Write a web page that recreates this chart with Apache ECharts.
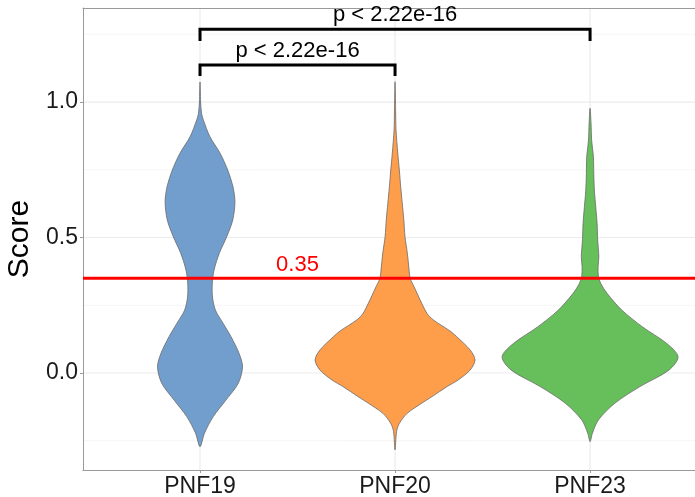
<!DOCTYPE html>
<html>
<head>
<meta charset="utf-8">
<script src="https://cdn.jsdelivr.net/npm/echarts@6/dist/echarts.min.js"></script>
<style>
html, body { margin: 0; padding: 0; background: #ffffff; }
#chart { width: 695px; height: 497px; }
</style>
</head>
<body>
<div id="chart"></div>
<script>
// Groups shown along the x axis (placed at 1, 2, 3)
const groups = ['PNF19', 'PNF20', 'PNF23'];

// Violin outlines: score values (top to bottom) and the violin half-width at each score,
// expressed in group units on the x axis.
const pnf19Score = [1.074, 1.0, 0.958, 0.934, 0.872, 0.811, 0.749, 0.687, 0.632, 0.565, 0.503, 0.442, 0.380, 0.331, 0.280, 0.232, 0.184, 0.134, 0.073, 0.023, -0.038, -0.100, -0.161, -0.222, -0.272];
const pnf19Width = [0, 0.003, 0.008, 0.017, 0.051, 0.103, 0.142, 0.169, 0.179, 0.168, 0.137, 0.099, 0.072, 0.063, 0.064, 0.079, 0.118, 0.159, 0.200, 0.218, 0.196, 0.133, 0.068, 0.023, 0];

const pnf20Score = [1.075, 0.970, 0.897, 0.811, 0.749, 0.687, 0.626, 0.565, 0.503, 0.442, 0.380, 0.350, 0.319, 0.257, 0.220, 0.196, 0.155, 0.134, 0.085, 0.048, 0.011, -0.026, -0.050, -0.087, -0.111, -0.149, -0.186, -0.215, -0.284];
const pnf20Width = [0, 0.003, 0.005, 0.014, 0.022, 0.029, 0.037, 0.045, 0.051, 0.063, 0.072, 0.077, 0.097, 0.137, 0.164, 0.196, 0.282, 0.316, 0.385, 0.410, 0.385, 0.323, 0.267, 0.190, 0.138, 0.062, 0.022, 0.008, 0];

const pnf23Score = [0.977, 0.921, 0.860, 0.798, 0.737, 0.675, 0.614, 0.552, 0.491, 0.429, 0.392, 0.356, 0.330, 0.294, 0.232, 0.170, 0.109, 0.060, 0.011, -0.050, -0.111, -0.173, -0.222, -0.253];
const pnf23Width = [0, 0.005, 0.008, 0.017, 0.019, 0.022, 0.029, 0.036, 0.039, 0.045, 0.041, 0.043, 0.055, 0.087, 0.163, 0.269, 0.393, 0.451, 0.405, 0.256, 0.128, 0.043, 0.012, 0];

// Reference threshold drawn across the panel
const thresholdValue = 0.35;

// Y axis breaks
const yMajorTicks = [0, 0.5, 1.0];
const yMinorTicks = [-0.25, 0.25, 0.75, 1.25];

// Pairwise comparisons (group positions), bracket bar heights, tip heights and labels
const comparisonFrom = [1, 1];
const comparisonTo = [2, 3];
const bracketBar = [1.137, 1.269];
const bracketTip = [1.096, 1.225];
const pLabels = ['p < 2.22e-16', 'p < 2.22e-16'];

const fills = ['#729ECE', '#FF9E4A', '#67BF5C'];
const fontFamily = '"Liberation Sans", Arial, Helvetica, sans-serif';

// Axis extents: the panel runs past the right edge of the canvas
const xMin = 0.4, xMax = 3.538;
const yMin = -0.358, yMax = 1.347;

const violins = [
  { score: pnf19Score, width: pnf19Width },
  { score: pnf20Score, width: pnf20Width },
  { score: pnf23Score, width: pnf23Width }
];

// Grid lines: [orientation, value, major?]
const gridLineData = []
  .concat(yMinorTicks.map(v => [0, v, 0]))
  .concat(yMajorTicks.map(v => [0, v, 1]))
  .concat(groups.map((g, i) => [1, i + 1, 1]));

const chart = echarts.init(document.getElementById('chart'), null, { renderer: 'canvas' });

const borderLine = { show: true, onZero: false, lineStyle: { color: '#9a9a9a', width: 1 } };

const option = {
  animation: false,
  backgroundColor: '#ffffff',
  grid: { left: 83, top: 8, right: 0, height: 462, show: false, containLabel: false, outerBoundsMode: 'none' },
  xAxis: [
    {
      type: 'value', position: 'bottom', min: xMin, max: xMax,
      axisLine: borderLine,
      splitLine: { show: false },
      axisTick: { show: true, customValues: [1, 2, 3], length: 3, lineStyle: { color: '#9a9a9a' } },
      axisLabel: {
        customValues: [1, 2, 3],
        formatter: v => groups[Math.round(v) - 1],
        fontSize: 23, color: '#1a1a1a', margin: 5, fontFamily: fontFamily
      }
    },
    {
      type: 'value', position: 'top', min: xMin, max: xMax,
      axisLine: borderLine,
      splitLine: { show: false }, axisTick: { show: false }, axisLabel: { show: false }
    }
  ],
  yAxis: {
    type: 'value', position: 'left', min: yMin, max: yMax,
    axisLine: borderLine,
    splitLine: { show: false },
    axisTick: { show: true, customValues: yMajorTicks, length: 3, lineStyle: { color: '#9a9a9a' } },
    axisLabel: {
      customValues: yMajorTicks,
      formatter: v => v.toFixed(1),
      fontSize: 23, color: '#1a1a1a', margin: 5, fontFamily: fontFamily
    },
    name: 'Score', nameLocation: 'middle', nameRotate: 90, nameGap: 42,
    nameTextStyle: { fontSize: 30, color: '#000000', fontFamily: fontFamily }
  },
  series: [
    {
      // panel grid lines
      type: 'custom', z: 0, silent: true,
      data: gridLineData,
      renderItem: function (params, api) {
        const horizontal = api.value(0) === 0;
        const v = api.value(1);
        const major = api.value(2) === 1;
        const a = horizontal ? api.coord([xMin, v]) : api.coord([v, yMin]);
        const b = horizontal ? api.coord([xMax, v]) : api.coord([v, yMax]);
        return {
          type: 'line',
          shape: { x1: a[0], y1: a[1], x2: b[0], y2: b[1] },
          style: { stroke: major ? '#ebebeb' : '#f3f3f3', lineWidth: major ? 1.2 : 0.8 }
        };
      }
    },
    {
      // violins
      type: 'custom', z: 2, silent: true,
      data: groups.map((g, i) => [i + 1]),
      renderItem: function (params, api) {
        const i = params.dataIndex;
        const cx = api.value(0);
        const v = violins[i];
        const n = v.score.length;
        const pts = [];
        for (let k = 0; k < n; k++) pts.push(api.coord([cx + v.width[k], v.score[k]]));
        for (let k = n - 2; k >= 1; k--) pts.push(api.coord([cx - v.width[k], v.score[k]]));
        return {
          type: 'polygon',
          shape: { points: pts, smooth: 0.3 },
          style: { fill: fills[i], stroke: '#6a6a6a', lineWidth: 0.8 }
        };
      }
    },
    {
      // threshold line and its label
      type: 'custom', z: 3, silent: true,
      data: [[thresholdValue]],
      renderItem: function (params, api) {
        const t = api.value(0);
        const a = api.coord([xMin, t]);
        const b = api.coord([xMax, t]);
        const m = api.coord([1.5, t]);
        return {
          type: 'group',
          children: [
            { type: 'line', shape: { x1: a[0], y1: a[1], x2: b[0], y2: b[1] }, style: { stroke: '#ff0000', lineWidth: 3 } },
            { type: 'text', x: m[0], y: m[1] - 13, style: { text: t.toFixed(2), fill: '#ff0000', font: '22px ' + fontFamily, align: 'center', verticalAlign: 'middle' } }
          ]
        };
      }
    },
    {
      // significance brackets
      type: 'custom', z: 4, silent: true,
      data: comparisonFrom.map((f, i) => [f, comparisonTo[i], bracketBar[i], bracketTip[i]]),
      renderItem: function (params, api) {
        const i = params.dataIndex;
        const p1 = api.coord([api.value(0), api.value(3)]);
        const p2 = api.coord([api.value(0), api.value(2)]);
        const p3 = api.coord([api.value(1), api.value(2)]);
        const p4 = api.coord([api.value(1), api.value(3)]);
        return {
          type: 'group',
          children: [
            { type: 'polyline', shape: { points: [p1, p2, p3, p4] }, style: { stroke: '#000000', lineWidth: 3, fill: null } },
            { type: 'text', x: (p2[0] + p3[0]) / 2, y: p2[1] - 3, style: { text: pLabels[i], fill: '#000000', font: '22px ' + fontFamily, align: 'center', verticalAlign: 'bottom' } }
          ]
        };
      }
    }
  ]
};

chart.setOption(option);
</script>
</body>
</html>
